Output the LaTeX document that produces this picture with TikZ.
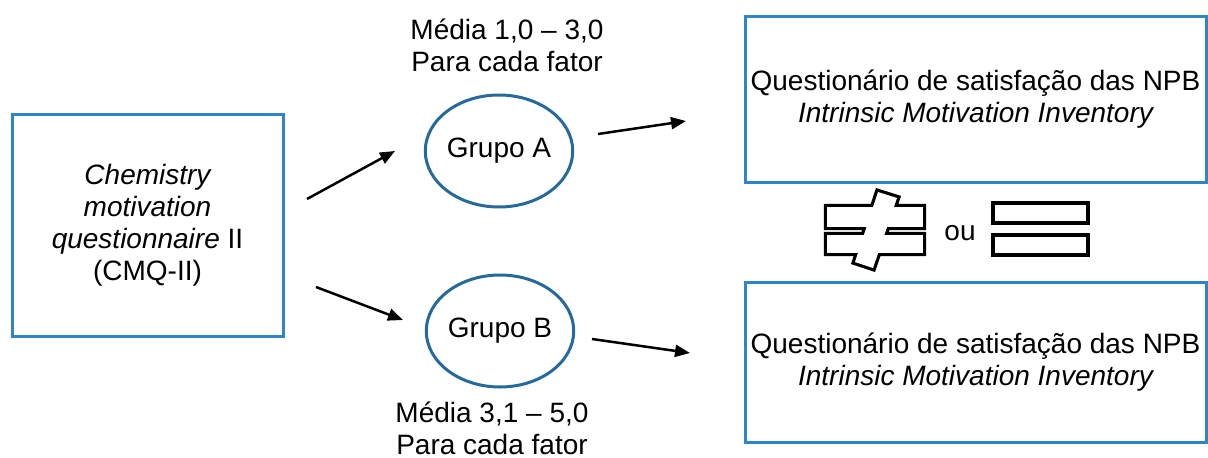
\documentclass[tikz,border=0pt]{standalone}
\usepackage{fontspec}
\setmainfont{Liberation Sans}
\usetikzlibrary{arrows.meta,shapes.geometric}
\definecolor{boxblue}{RGB}{46,134,200}
\definecolor{ovalblue}{RGB}{38,105,155}
\begin{document}
\begin{tikzpicture}[x=1pt,y=-1pt,
  txt/.style={font=\fontsize{28}{32}\selectfont, align=center, inner sep=0pt},
  qbox/.style={draw=boxblue, line width=3pt, rectangle, inner sep=0pt, txt},
  grp/.style={draw=ovalblue, line width=3pt, ellipse, minimum width=145pt,
              minimum height=112pt, inner sep=0pt, txt},
  link/.style={line width=2.5pt, -{Triangle[length=15pt,width=12pt]}},
  outlinebar/.style={draw=black, line width=3.2pt, fill=white}
]
\useasboundingbox (0,0) rectangle (1208,458);

% questionnaire boxes
\node[qbox, minimum width=271pt, minimum height=222pt] (cmq) at (147.5,225)
  {\itshape Chemistry\\ \itshape motivation\\ \itshape questionnaire\upshape{} II\\ (CMQ-II)};
\node[qbox, minimum width=461pt, minimum height=166pt] (npbA) at (975.5,99)
  {Questionário de satisfação das NPB\\ \itshape Intrinsic Motivation Inventory};
\node[qbox, minimum width=461pt, minimum height=160pt] (npbB) at (975.5,362)
  {Questionário de satisfação das NPB\\ \itshape Intrinsic Motivation Inventory};

% groups
\node[grp] (gA) at (499,151) {Grupo A};
\node[grp] (gB) at (500,331) {Grupo B};
\node[txt] (mA) at (507,45) {Média 1,0 – 3,0\\ Para cada fator};
\node[txt] (mB) at (492,428) {Média 3,1 – 5,0\\ Para cada fator};

% arrows
\coordinate (s1) at (307,199); \coordinate (e1) at (395,151);
\coordinate (s2) at (316,287); \coordinate (e2) at (403,320);
\coordinate (s3) at (598,134); \coordinate (e3) at (686,121);
\coordinate (s4) at (592,339); \coordinate (e4) at (690,353);
\draw[link] (s1) -- (e1);
\draw[link] (s2) -- (e2);
\draw[link] (s3) -- (e3);
\draw[link] (s4) -- (e4);

% "not equal" sign drawn as one merged outline
\draw[line width=6.4pt, line join=miter]
  (827,207) rectangle (923,227)
  (827,235) rectangle (923,253)
  (878,192) -- (897,198) -- (873,268) -- (855,262) -- cycle;
\fill[white] (827,207) rectangle (923,227);
\fill[white] (827,235) rectangle (923,253);
\fill[white] (878,192) -- (897,198) -- (873,268) -- (855,262) -- cycle;

\node[txt] (ou) at (960,233) {ou};

% "equal" sign
\draw[outlinebar] (993,203) rectangle (1088,223);
\draw[outlinebar] (993,235) rectangle (1088,255);
\end{tikzpicture}
\end{document}
